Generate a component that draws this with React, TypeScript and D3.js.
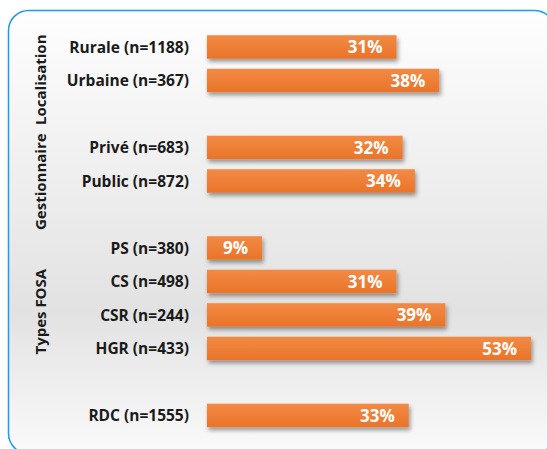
import { useEffect, useRef } from "react";
import * as d3 from "d3";

// categories (top to bottom), blank slots are spacer rows between groups
const categories = [
  "Rurale (n=1188)",
  "Urbaine (n=367)",
  "",
  "Privé (n=683)",
  "Public (n=872)",
  " ",
  "PS (n=380)",
  "CS (n=498)",
  "CSR (n=244)",
  "HGR (n=433)",
  "  ",
  "RDC (n=1555)",
];
const values = [31, 38, null, 32, 34, null, 9, 31, 39, 53, null, 33];

const groupNames = ["Localisation", "Gestionnaire", "Types FOSA"];
const groupMembers = [
  ["Rurale (n=1188)", "Urbaine (n=367)"],
  ["Privé (n=683)", "Public (n=872)"],
  ["PS (n=380)", "CS (n=498)", "CSR (n=244)", "HGR (n=433)"],
];

const W = 547;
const H = 449;
const FONT = "'Open Sans', sans-serif";

export default function App() {
  const ref = useRef<SVGSVGElement | null>(null);

  useEffect(() => {
    const svg = d3.select(ref.current);
    svg.selectAll("*").remove();

    const defs = svg.append("defs");
    const bg = defs
      .append("linearGradient")
      .attr("id", "bg")
      .attr("x1", 0)
      .attr("y1", 0)
      .attr("x2", 0)
      .attr("y2", 1);
    bg.append("stop").attr("offset", "0%").attr("stop-color", "#fefefe");
    bg.append("stop").attr("offset", "68%").attr("stop-color", "#e2e2e2");
    bg.append("stop").attr("offset", "100%").attr("stop-color", "#fafafa");

    const barGrad = defs
      .append("linearGradient")
      .attr("id", "bar")
      .attr("x1", 0)
      .attr("y1", 0)
      .attr("x2", 0)
      .attr("y2", 1);
    barGrad.append("stop").attr("offset", "0%").attr("stop-color", "#f28a45");
    barGrad.append("stop").attr("offset", "100%").attr("stop-color", "#ea7428");

    defs
      .append("filter")
      .attr("id", "shadow")
      .attr("x", "-10%")
      .attr("y", "-30%")
      .attr("width", "130%")
      .attr("height", "180%")
      .append("feDropShadow")
      .attr("dx", 1.5)
      .attr("dy", 3)
      .attr("stdDeviation", 2)
      .attr("flood-color", "#000")
      .attr("flood-opacity", 0.4);

    // frame
    svg
      .append("rect")
      .attr("x", 8.5)
      .attr("y", 10.5)
      .attr("width", 546)
      .attr("height", 443)
      .attr("rx", 20)
      .attr("fill", "url(#bg)")
      .attr("stroke", "#1e9be6")
      .attr("stroke-width", 1.5);

    const x = d3.scaleLinear().domain([0, 53]).range([207, 531]);
    const y = d3
      .scaleBand<string>()
      .domain(categories)
      .range([25.2, 437.2])
      .padding(0.3);

    const rows = categories
      .map((c, i) => ({ c, v: values[i] }))
      .filter((d) => d.v !== null);

    svg
      .append("g")
      .selectAll("rect")
      .data(rows)
      .join("rect")
      .attr("x", x(0))
      .attr("y", (d) => y(d.c)!)
      .attr("width", (d) => x(d.v as number) - x(0))
      .attr("height", y.bandwidth())
      .attr("fill", "url(#bar)")
      .attr("filter", "url(#shadow)");

    svg
      .append("g")
      .selectAll("text")
      .data(rows)
      .join("text")
      .attr("x", (d) => x(d.v as number) - 14)
      .attr("y", (d) => y(d.c)! + y.bandwidth() / 2)
      .attr("dy", "0.36em")
      .attr("text-anchor", "end")
      .attr("fill", "#fff")
      .attr("font-family", FONT)
      .attr("font-weight", "bold")
      .attr("font-size", 17)
      .text((d) => `${d.v}%`);

    // category labels
    svg
      .append("g")
      .selectAll("text")
      .data(rows)
      .join("text")
      .attr("x", 189)
      .attr("y", (d) => y(d.c)! + y.bandwidth() / 2)
      .attr("dy", "0.36em")
      .attr("text-anchor", "end")
      .attr("fill", "#1a1a1a")
      .attr("font-family", FONT)
      .attr("font-weight", "bold")
      .attr("font-size", 15.5)
      .text((d) => d.c);

    // group titles, rotated
    const offsets = [16, 17.5, 13.5];
    groupNames.forEach((g, i) => {
      const m = groupMembers[i];
      const cy =
        (y(m[0])! + y(m[m.length - 1])! + y.bandwidth()) / 2 + offsets[i];
      svg
        .append("text")
        .attr("transform", `translate(46,${cy}) rotate(-90)`)
        .attr("text-anchor", "middle")
        .attr("fill", "#1a1a1a")
        .attr("font-family", FONT)
        .attr("font-weight", "bold")
        .attr("font-size", 15)
        .text(g);
    });
  }, []);

  return (
    <svg
      ref={ref}
      width={W}
      height={H}
      style={{ position: "absolute", left: 0, top: 0, display: "block" }}
    />
  );
}
